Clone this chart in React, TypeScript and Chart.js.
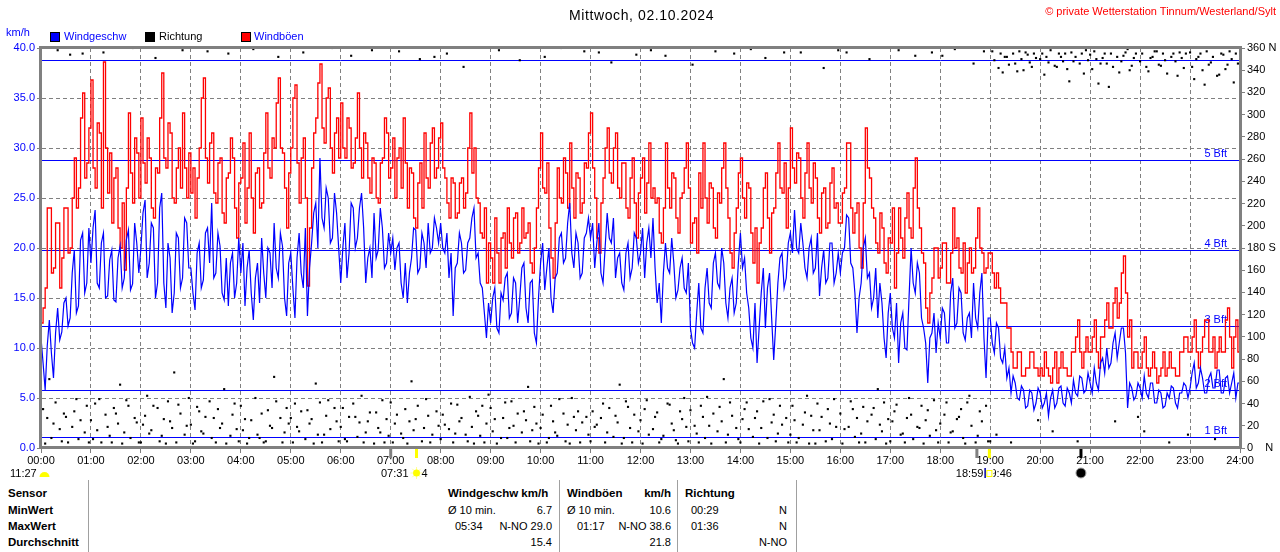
import React, { useEffect, useRef } from "react";
import { Chart, registerables } from "chart.js";

Chart.register(...registerables);

const FONT = "'Liberation Sans', Arial, sans-serif";
const STEP_MINUTES = 2.5;

// Windgeschwindigkeit km/h, 2,5-Minuten-Werte 00:00 .. 24:00 (eine Zeile = eine Stunde)
const WIND_KMH = [
  11.0, 8.5, 5.8, 10.2, 12.8, 9.5, 7.0, 11.5, 14.0, 10.8, 11.6, 14.5, 15.0, 12.2, 13.0, 17.5, 19.8, 13.5, 14.2, 20.8, 21.5, 15.5, 16.5, 22.0,
  18.5, 22.0, 23.8, 16.5, 16.0, 20.5, 21.5, 15.0, 15.2, 18.8, 19.8, 14.8, 14.6, 19.0, 20.2, 16.0, 17.0, 20.8, 21.8, 15.8, 16.4, 22.5, 20.5, 17.5,
  20.0, 23.5, 24.8, 17.0, 18.5, 22.5, 22.0, 15.0, 16.5, 24.0, 25.5, 16.5, 14.0, 20.5, 19.0, 13.5, 15.5, 21.5, 21.0, 16.0, 17.0, 23.0, 22.5, 18.0,
  18.0, 15.5, 13.8, 19.5, 20.5, 16.0, 16.8, 21.5, 22.0, 18.5, 24.5, 17.0, 17.5, 21.5, 20.2, 15.5, 14.8, 19.0, 14.2, 18.5, 19.5, 15.0, 16.5, 21.0,
  17.5, 20.5, 14.2, 18.0, 19.8, 15.5, 12.8, 17.0, 18.5, 14.5, 21.0, 17.5, 15.0, 20.0, 19.5, 16.0, 22.5, 18.0, 17.0, 21.5, 20.2, 15.0, 13.2, 18.5,
  19.5, 16.0, 13.0, 19.0, 21.5, 17.5, 16.0, 22.0, 13.2, 18.0, 20.5, 23.5, 24.5, 20.0, 29.0, 23.0, 22.0, 26.0, 25.0, 20.5, 21.0, 25.5, 23.5, 20.0,
  16.5, 20.0, 22.5, 17.0, 19.5, 24.5, 24.0, 20.0, 21.0, 24.0, 25.5, 22.0, 16.5, 19.0, 20.0, 17.0, 23.5, 19.0, 19.8, 24.0, 22.0, 18.0, 18.5, 21.5,
  19.5, 21.0, 17.8, 20.0, 20.5, 16.5, 15.0, 18.5, 14.5, 17.5, 19.0, 22.0, 21.8, 17.5, 18.0, 21.5, 20.5, 18.0, 22.5, 19.5, 20.0, 23.0, 22.0, 20.5,
  22.5, 20.0, 19.5, 21.5, 17.0, 19.5, 13.2, 18.0, 18.5, 21.5, 20.5, 17.5, 17.8, 20.5, 21.0, 23.0, 24.0, 19.0, 19.5, 16.5, 16.0, 13.5, 11.0, 14.5,
  12.5, 15.0, 16.0, 12.0, 11.5, 15.5, 14.8, 17.0, 17.5, 13.0, 13.5, 17.0, 16.5, 12.5, 15.0, 18.0, 18.5, 14.0, 12.5, 16.5, 16.8, 11.5, 10.5, 15.0,
  18.5, 20.5, 15.8, 18.0, 20.0, 15.0, 13.5, 17.0, 17.5, 21.0, 21.5, 18.5, 19.0, 22.5, 24.5, 19.5, 18.0, 21.5, 20.5, 17.0, 17.5, 21.0, 21.5, 23.0,
  21.0, 22.5, 18.0, 20.5, 22.5, 17.5, 16.5, 20.0, 23.5, 21.0, 20.5, 23.0, 17.0, 19.0, 19.5, 16.5, 15.8, 19.5, 20.5, 17.0, 18.0, 21.5, 21.0, 18.5,
  19.5, 22.0, 17.0, 20.5, 22.0, 19.0, 23.0, 18.0, 14.5, 16.5, 12.5, 17.5, 20.5, 18.0, 17.5, 21.0, 18.5, 15.0, 15.8, 18.0, 19.0, 16.0, 15.5, 18.5,
  12.0, 10.5, 10.0, 13.5, 16.5, 12.0, 11.5, 16.0, 18.0, 14.5, 14.0, 18.5, 19.5, 16.5, 16.0, 20.0, 18.5, 14.5, 13.0, 16.0, 17.0, 13.5, 14.5, 18.5,
  21.5, 18.0, 19.0, 15.5, 14.0, 11.0, 10.0, 14.5, 8.5, 12.0, 15.5, 18.0, 12.0, 16.0, 17.5, 13.0, 8.8, 12.5, 16.5, 19.0, 19.5, 16.0, 17.0, 20.5,
  21.5, 19.5, 23.8, 20.0, 19.5, 22.5, 20.5, 18.0, 17.0, 20.0, 21.0, 17.5, 18.0, 21.5, 15.2, 18.0, 19.8, 16.5, 17.0, 20.5, 20.5, 16.5, 17.5, 19.5,
  17.5, 19.5, 20.0, 23.3, 23.0, 18.5, 18.0, 15.5, 11.5, 15.0, 16.5, 20.0, 21.0, 17.0, 17.5, 14.0, 15.0, 18.0, 13.0, 16.5, 14.5, 11.0, 9.0, 13.5,
  15.5, 12.0, 11.0, 14.5, 8.5, 12.5, 13.5, 10.0, 9.8, 15.0, 20.0, 16.5, 15.5, 18.5, 17.5, 13.0, 12.0, 10.5, 6.5, 11.0, 11.5, 13.5, 9.5, 12.5,
  11.0, 14.0, 13.5, 10.5, 10.5, 15.5, 17.0, 12.0, 12.5, 16.0, 15.5, 11.5, 10.8, 13.0, 13.5, 11.0, 16.5, 13.0, 12.0, 15.5, 17.5, 11.0, 7.0, 13.0,
  13.0, 10.5, 9.5, 12.5, 12.0, 9.0, 8.5, 10.0, 7.0, 8.0, 5.5, 7.2, 6.5, 5.0, 4.8, 6.2, 5.8, 4.0, 4.2, 5.8, 5.5, 3.8, 4.5, 6.0,
  5.5, 4.0, 4.5, 5.5, 3.2, 5.0, 5.8, 4.0, 4.5, 6.0, 6.2, 4.5, 4.2, 6.0, 5.5, 4.5, 6.8, 5.5, 5.2, 7.2, 7.0, 5.5, 5.8, 7.5,
  6.5, 5.5, 8.0, 6.5, 5.8, 8.5, 9.0, 7.5, 10.0, 8.0, 8.5, 10.5, 11.5, 9.0, 10.5, 12.0, 12.0, 9.5, 4.0, 6.5, 6.0, 4.8, 5.2, 6.5,
  6.0, 5.0, 7.2, 5.5, 5.0, 6.5, 6.5, 4.5, 4.5, 5.8, 5.5, 4.0, 4.2, 5.5, 5.0, 6.2, 6.0, 4.5, 4.0, 5.5, 5.5, 6.5, 6.2, 5.0,
  6.0, 7.5, 8.5, 6.0, 6.5, 8.0, 7.0, 5.5, 5.5, 7.0, 7.5, 6.0, 6.0, 7.8, 7.8, 5.5, 5.5, 7.0, 7.2, 5.5, 6.5, 7.5, 5.0, 6.5,
  6.5,
];

// Windböen km/h
const GUST_KMH = [
  12.5, 14.0, 16.0, 24.0, 24.0, 17.5, 18.0, 22.5, 22.5, 16.0, 19.0, 24.0, 24.0, 19.5, 20.0, 25.0, 29.0, 24.0, 26.0, 33.0, 35.5, 27.0, 28.5, 32.0,
  36.8, 28.0, 26.0, 32.5, 31.5, 24.0, 38.6, 30.0, 25.5, 29.5, 22.5, 27.0, 28.0, 22.0, 20.0, 24.5, 17.8, 26.0, 33.5, 27.5, 24.5, 31.0, 29.5, 25.0,
  33.0, 28.5, 26.5, 31.0, 29.0, 24.0, 23.0, 28.0, 27.5, 33.0, 37.5, 29.0, 28.0, 32.5, 31.5, 25.0, 24.5, 28.0, 30.0, 26.0, 33.5, 28.0, 25.0, 29.5,
  25.5, 28.0, 23.0, 27.0, 30.0, 35.0, 37.0, 29.0, 26.5, 30.5, 31.5, 25.5, 24.5, 28.5, 29.0, 23.5, 22.5, 27.0, 27.5, 31.0, 29.0, 24.0, 21.0, 26.5,
  27.0, 30.5, 22.5, 26.0, 31.5, 25.0, 21.5, 27.5, 28.0, 24.0, 24.5, 29.5, 33.5, 28.0, 27.0, 31.0, 30.0, 34.5, 37.0, 30.0, 29.5, 26.0, 22.0, 27.5,
  30.0, 35.0, 36.3, 28.5, 24.5, 29.0, 31.0, 25.0, 16.2, 22.0, 28.0, 31.5, 33.0, 36.5, 38.4, 32.0, 30.5, 35.0, 36.0, 30.0, 27.5, 31.5, 33.0, 29.0,
  34.5, 30.0, 29.0, 33.0, 32.0, 28.0, 28.5, 31.0, 35.5, 30.0, 27.0, 31.5, 30.5, 27.0, 25.5, 29.0, 28.5, 25.0, 24.5, 28.5, 29.0, 33.0, 31.5, 27.0,
  28.0, 31.0, 25.0, 29.0, 30.0, 26.0, 33.0, 28.5, 24.0, 28.0, 27.5, 23.0, 22.0, 26.5, 28.5, 24.0, 31.5, 27.0, 26.0, 30.5, 32.0, 27.0, 28.0, 31.0,
  32.5, 28.0, 27.0, 24.5, 23.0, 27.0, 26.5, 23.0, 23.5, 26.5, 27.0, 24.0, 25.5, 30.0, 33.5, 27.5, 30.0, 25.0, 24.5, 21.5, 21.0, 24.0, 16.5, 20.5,
  19.0, 16.5, 23.0, 19.5, 16.5, 21.0, 21.5, 18.0, 24.0, 20.5, 19.0, 23.0, 23.5, 19.5, 20.5, 24.0, 21.0, 21.5, 22.5, 18.5, 17.5, 20.0, 24.0, 28.0,
  31.5, 26.0, 25.5, 28.5, 22.0, 19.0, 17.0, 22.5, 28.0, 25.0, 24.5, 29.0, 27.5, 24.0, 30.5, 26.0, 23.0, 27.5, 27.0, 23.5, 24.5, 28.5, 28.0, 31.5,
  33.5, 28.0, 25.0, 21.0, 19.5, 24.5, 27.0, 30.0, 32.0, 27.5, 26.5, 30.0, 31.5, 26.0, 25.0, 28.5, 28.5, 24.0, 23.0, 27.0, 29.0, 24.5, 21.0, 25.5,
  27.0, 29.0, 23.5, 26.5, 30.5, 25.0, 26.0, 24.5, 25.0, 21.5, 20.5, 24.0, 30.5, 26.0, 24.0, 27.5, 27.0, 23.0, 21.5, 25.0, 25.5, 28.0, 30.5, 26.0,
  20.5, 22.5, 23.0, 19.5, 27.5, 24.0, 30.5, 25.0, 22.5, 26.5, 26.0, 22.0, 21.0, 25.5, 24.5, 28.0, 30.5, 26.0, 23.0, 19.5, 18.0, 21.5, 24.0, 27.5,
  29.0, 25.0, 23.0, 26.5, 26.0, 21.5, 18.5, 22.0, 16.5, 20.5, 22.0, 26.0, 27.5, 23.0, 19.5, 23.5, 24.0, 27.5, 30.5, 26.0, 25.5, 28.5, 22.0, 26.0,
  32.0, 28.0, 26.5, 29.5, 29.0, 25.0, 23.0, 27.5, 30.5, 26.0, 24.5, 28.5, 27.0, 23.0, 21.5, 25.5, 26.0, 22.0, 22.5, 26.5, 28.0, 24.0, 24.5, 22.5,
  22.5, 25.5, 26.0, 30.5, 30.5, 24.0, 21.5, 23.5, 24.5, 20.0, 18.0, 24.5, 32.0, 28.0, 27.0, 24.0, 23.0, 20.5, 19.5, 23.5, 22.0, 18.5, 17.5, 21.0,
  20.5, 24.0, 16.0, 19.5, 24.0, 21.0, 19.0, 23.0, 25.5, 22.0, 21.0, 26.0, 29.0, 24.0, 22.0, 19.5, 18.5, 14.0, 12.5, 15.5, 17.0, 20.0, 20.0, 17.0,
  18.0, 20.5, 20.5, 16.5, 16.5, 19.5, 24.0, 20.0, 21.0, 18.0, 17.5, 20.5, 15.5, 18.5, 20.0, 17.5, 18.0, 21.0, 24.0, 20.0, 19.5, 17.5, 18.0, 19.5,
  19.5, 17.5, 16.0, 17.5, 16.0, 14.5, 14.5, 14.5, 12.0, 12.0, 9.6, 8.0, 8.0, 9.6, 9.6, 7.2, 7.2, 8.0, 8.0, 9.6, 9.6, 8.0, 8.0, 7.2,
  8.0, 7.2, 9.6, 8.0, 7.2, 6.5, 8.0, 9.6, 6.5, 8.0, 9.6, 8.0, 8.0, 7.2, 7.2, 9.6, 9.6, 11.1, 12.8, 9.6, 8.0, 9.6, 11.1, 9.6,
  9.6, 11.1, 12.8, 9.6, 8.0, 11.1, 11.1, 12.8, 14.5, 12.0, 12.0, 14.5, 16.0, 13.0, 14.5, 17.5, 19.2, 15.5, 11.1, 12.8, 8.0, 9.6, 9.6, 8.0,
  8.0, 9.6, 11.1, 8.0, 7.2, 8.0, 9.6, 8.0, 6.5, 7.2, 8.0, 9.6, 7.2, 8.0, 9.6, 8.0, 8.0, 7.2, 7.2, 9.6, 9.6, 11.1, 11.1, 9.6,
  9.6, 11.1, 12.8, 9.6, 8.0, 9.6, 11.1, 12.8, 12.8, 9.6, 9.6, 11.1, 8.0, 9.6, 11.1, 9.6, 9.6, 12.8, 14.0, 11.1, 8.0, 11.1, 12.8, 9.6,
  12.0,
];

// Windrichtung Grad (2,5-Minuten-Werte)
const DIRECTION_DEG = [
  12, 35, 4, 27, 62, 9, 22, 41, 358, 17, 6, 31, 28, 5, 354, 19, 33, 44, 8, 25, 355, 14, 38, 5,
  25, 8, 40, 16, 44, 5, 356, 30, 19, 11, 5, 36, 31, 22, 57, 4, 14, 43, 38, 9, 360, 27, 23, 5,
  5, 21, 29, 47, 13, 16, 38, 351, 36, 6, 11, 26, 4, 42, 24, 18, 68, 5, 39, 31, 358, 12, 20, 45,
  21, 4, 6, 37, 33, 15, 13, 28, 357, 42, 9, 27, 5, 35, 18, 22, 53, 4, 355, 11, 30, 40, 17, 6,
  38, 16, 26, 4, 9, 25, 359, 45, 12, 9, 31, 5, 6, 34, 20, 18, 64, 42, 352, 27, 5, 14, 36, 22,
  27, 5, 40, 19, 15, 33, 356, 8, 34, 22, 26, 4, 58, 12, 41, 5, 12, 29, 43, 17, 360, 36, 24, 6,
  19, 36, 8, 6, 28, 353, 40, 28, 10, 23, 47, 5, 14, 24, 32, 358, 4, 32, 18, 14, 43, 5, 26, 11,
  41, 5, 22, 30, 357, 13, 9, 35, 4, 24, 60, 16, 26, 38, 350, 6, 18, 44, 29, 5, 12, 352, 33, 20,
  8, 30, 21, 355, 17, 40, 5, 13, 39, 24, 27, 343, 12, 6, 46, 19, 4, 33, 29, 11, 38, 5, 22, 48,
  36, 15, 26, 4, 358, 9, 27, 41, 9, 18, 42, 20, 5, 31, 349, 14, 33, 25, 55, 6, 16, 37, 22, 4,
  18, 30, 352, 5, 9, 38, 24, 14, 11, 44, 360, 31, 6, 21, 4, 45, 28, 16, 33, 5, 23, 357, 28, 12,
  6, 33, 19, 21, 356, 27, 40, 5, 14, 36, 347, 10, 29, 23, 57, 4, 9, 42, 37, 18, 5, 30, 354, 15,
  25, 4, 35, 43, 12, 358, 17, 28, 32, 5, 8, 11, 353, 40, 39, 22, 16, 7, 4, 33, 26, 45, 19, 6,
  34, 345, 20, 13, 5, 38, 28, 9, 46, 20, 4, 31, 357, 15, 37, 24, 62, 5, 12, 41, 29, 355, 18, 8,
  5, 26, 35, 41, 17, 359, 10, 27, 33, 4, 18, 42, 351, 9, 44, 23, 30, 6, 13, 38, 21, 356, 27, 5,
  12, 38, 25, 5, 9, 356, 21, 32, 47, 4, 29, 16, 4, 40, 16, 28, 342, 6, 35, 22, 8, 44, 19, 358,
  31, 4, 17, 356, 19, 42, 35, 10, 27, 5, 13, 37, 5, 24, 350, 30, 36, 8, 53, 21, 15, 41, 4, 26,
  6, 24, 33, 39, 358, 12, 13, 5, 27, 45, 30, 8, 353, 19, 18, 38, 4, 25, 34, 11, 356, 43, 16, 5,
  22, 353, 30, 41, 5, 14, 15, 359, 26, 28, 35, 9, 4, 41, 47, 20, 346, 5, 11, 33, 24, 357, 38, 6,
  6, 357, 349, 12, 342, 355, 338, 352, 352, 345, 5, 355, 346, 339, 357, 350, 340, 356, 354, 347, 343, 355, 351, 25,
  350, 355, 336, 352, 347, 358, 15, 344, 343, 355, 352, 348, 355, 341, 330, 356, 348, 352, 6, 346, 355, 337, 358, 349,
  354, 341, 357, 350, 328, 346, 351, 355, 346, 325, 355, 343, 24, 352, 338, 348, 353, 356, 359, 340, 344, 351, 355, 28,
  348, 355, 15, 343, 339, 351, 352, 357, 357, 345, 344, 355, 349, 337, 5, 352, 355, 348, 335, 356, 351, 342, 355, 12,
  356, 343, 332, 350, 352, 355, 340, 327, 357, 345, 347, 352, 8, 335, 336, 355, 354, 341, 345, 357, 350, 329, 355, 346,
];

const BEAUFORT_KMH = [1.1, 5.8, 12.2, 19.8, 28.8, 38.8];
const BEAUFORT_LABELS = ["1 Bft", "2 Bft", "3 Bft", "4 Bft", "5 Bft", ""];

// Markierungen an der Zeitachse (Minuten)
const EVENT_MINUTES = [420, 451, 1124, 1139, 1249];
const EVENT_COLORS = ["#808080", "#ffff00", "#808080", "#ffff00", "#000000"];

const STAT_ROWS = ["Sensor", "MinWert", "MaxWert", "Durchschnitt"];
const WIND_STATS = ["Ø 10 min.", "6.7", "05:34", "N-NO 29.0", "15.4"];
const GUST_STATS = ["Ø 10 min.", "10.6", "01:17", "N-NO 38.6", "21.8"];
const DIR_STATS = ["00:29", "N", "01:36", "N", "N-NO"];

const toPoints = (arr: number[]) => arr.map((v, i) => ({ x: i * STEP_MINUTES, y: v }));

const overlayPlugin = {
  id: "overlay",
  beforeDatasetsDraw(chart: any) {
    const { ctx, chartArea: a, scales } = chart;
    ctx.save();
    ctx.strokeStyle = "#0000ff";
    ctx.lineWidth = 1;
    ctx.fillStyle = "#0000ff";
    ctx.font = `11px ${FONT}`;
    ctx.textAlign = "right";
    ctx.textBaseline = "alphabetic";
    BEAUFORT_KMH.forEach((v, i) => {
      const py = Math.round(scales.y.getPixelForValue(v)) + 0.5;
      ctx.beginPath();
      ctx.moveTo(a.left, py);
      ctx.lineTo(a.right, py);
      ctx.stroke();
      if (BEAUFORT_LABELS[i]) ctx.fillText(BEAUFORT_LABELS[i], a.right - 13, py - 4);
    });
    ctx.restore();
  },
  afterDraw(chart: any) {
    const { ctx, chartArea: a, scales } = chart;
    ctx.save();
    ctx.strokeStyle = "#808080";
    ctx.lineWidth = 3;
    ctx.strokeRect(a.left - 0.5, a.top - 0.5, a.right - a.left + 1, a.bottom - a.top);
    EVENT_MINUTES.forEach((m, i) => {
      const px = scales.x.getPixelForValue(m);
      ctx.strokeStyle = EVENT_COLORS[i];
      ctx.lineWidth = 3;
      ctx.beginPath();
      ctx.moveTo(px, a.bottom + 1);
      ctx.lineTo(px, a.bottom + 10);
      ctx.stroke();
    });
    ctx.font = `11px ${FONT}`;
    ctx.fillStyle = "#000";
    ctx.textBaseline = "alphabetic";
    ctx.textAlign = "left";
    ctx.fillText("11:27", 10, 477);
    ctx.fillStyle = "#ffff00";
    ctx.beginPath();
    ctx.arc(44.5, 477, 5, Math.PI, 0);
    ctx.fill();
    const sr = scales.x.getPixelForValue(EVENT_MINUTES[1]);
    ctx.fillStyle = "#000";
    ctx.textAlign = "right";
    ctx.fillText("07:31", sr - 8, 477);
    ctx.textAlign = "left";
    ctx.fillText("4", sr + 5, 477);
    ctx.strokeStyle = "#ffff99";
    ctx.lineWidth = 1;
    for (let k = 0; k < 8; k++) {
      const ang = (k * Math.PI) / 4;
      ctx.beginPath();
      ctx.moveTo(sr + Math.cos(ang) * 3, 473 + Math.sin(ang) * 3);
      ctx.lineTo(sr + Math.cos(ang) * 6, 473 + Math.sin(ang) * 6);
      ctx.stroke();
    }
    ctx.fillStyle = "#ffff00";
    ctx.beginPath();
    ctx.arc(sr, 473, 3.5, 0, Math.PI * 2);
    ctx.fill();
    const ss = scales.x.getPixelForValue(EVENT_MINUTES[3]);
    ctx.fillStyle = "#000";
    ctx.textAlign = "right";
    ctx.fillText("18:59", ss - 6, 477);
    ctx.textAlign = "left";
    ctx.fillText("19:46", ss - 5, 477);
    ctx.fillStyle = "#fff";
    ctx.fillRect(ss - 6, 467, 10, 12);
    ctx.fillStyle = "#0000aa";
    ctx.fillRect(ss - 5, 468, 1.5, 10);
    ctx.strokeStyle = "#ffff00";
    ctx.lineWidth = 1;
    ctx.strokeRect(ss - 2.5, 470.5, 5, 6);
    const nm = scales.x.getPixelForValue(EVENT_MINUTES[4]);
    ctx.fillStyle = "#000";
    ctx.strokeStyle = "#a0a0a0";
    ctx.beginPath();
    ctx.arc(nm, 473, 5, 0, Math.PI * 2);
    ctx.fill();
    ctx.stroke();
    ctx.restore();
  },
};

const pad2 = (n: number) => String(n).padStart(2, "0");

function WindChart() {
  const ref = useRef<HTMLCanvasElement | null>(null);
  useEffect(() => {
    if (!ref.current) return;
    const chart = new Chart(ref.current, {
      type: "line",
      data: {
        datasets: [
          {
            label: "Richtung",
            data: toPoints(DIRECTION_DEG),
            yAxisID: "y2",
            showLine: false,
            pointStyle: "rect",
            pointRadius: 1.5,
            pointBackgroundColor: "#000",
            pointBorderWidth: 0,
            order: 0,
            clip: 4,
          } as any,
          {
            label: "Windgeschw",
            data: toPoints(WIND_KMH),
            yAxisID: "y",
            borderColor: "#0000ff",
            borderWidth: 1.2,
            pointRadius: 0,
            order: 1,
          },
          {
            label: "Windböen",
            data: toPoints(GUST_KMH),
            yAxisID: "y",
            borderColor: "#ff0000",
            borderWidth: 1.3,
            pointRadius: 0,
            stepped: true,
            order: 2,
          },
        ],
      },
      options: {
        animation: false,
        responsive: false,
        devicePixelRatio: 1,
        events: [],
        layout: { padding: { top: 48, left: 0, right: 0, bottom: 0 } },
        plugins: { legend: { display: false }, tooltip: { enabled: false }, title: { display: false } },
        scales: {
          x: {
            type: "linear",
            min: 0,
            max: 1440,
            afterFit: (s: any) => {
              s.height = 32;
            },
            ticks: {
              stepSize: 60,
              autoSkip: false,
              maxRotation: 0,
              color: "#000",
              padding: 1,
              font: { family: FONT, size: 11 },
              callback: (v: any) => `${pad2(Math.round(Number(v) / 60))}:00`,
            },
            grid: { color: "#808080", tickColor: "#808080", tickLength: 5, lineWidth: 1 },
            border: { display: true, color: "#808080", width: 1, dash: [4, 3] },
          },
          y: {
            type: "linear",
            position: "left",
            min: 0,
            max: 40,
            afterFit: (s: any) => {
              s.width = 41;
            },
            ticks: {
              stepSize: 5,
              color: "#0000ff",
              padding: 2,
              font: { family: FONT, size: 11 },
              callback: (v: any) => Number(v).toFixed(1),
            },
            grid: { color: "#808080", tickColor: "#808080", tickLength: 4, lineWidth: 1 },
            border: { display: true, color: "#808080", width: 1, dash: [4, 3] },
          },
          y2: {
            type: "linear",
            position: "right",
            min: 0,
            max: 360,
            afterFit: (s: any) => {
              s.width = 40;
            },
            ticks: {
              stepSize: 20,
              color: "#000",
              padding: 2,
              font: { family: FONT, size: 11 },
              callback: (v: any) => (v === 360 ? "360 N" : v === 180 ? "180 S" : v === 0 ? "0    N" : String(v)),
            },
            grid: { drawOnChartArea: false, color: "#808080", tickColor: "#808080", tickLength: 5 },
            border: { display: true, color: "#808080", width: 1 },
          },
        },
      },
      plugins: [overlayPlugin],
    } as any);
    return () => chart.destroy();
  }, []);
  return <canvas ref={ref} width={1280} height={480} style={{ display: "block", position: "absolute", left: 0, top: 0 }} />;
}

const ROW_TOP = [487, 504, 520, 536];

function Txt(props: { x: number; row: number; right?: boolean; bold?: boolean; color?: string; children: React.ReactNode }) {
  const { x, row, right, bold, color, children } = props;
  const pos = right ? { right: 1280 - x } : { left: x };
  return (
    <span
      style={{
        position: "absolute",
        top: ROW_TOP[row],
        ...pos,
        font: `${bold ? "bold 11.5px" : "11px"} ${FONT}`,
        lineHeight: "13px",
        whiteSpace: "nowrap",
        color: color || "#000",
      }}
    >
      {children}
    </span>
  );
}

export default function App() {
  const sep = (x: number) => (
    <div key={x} style={{ position: "absolute", left: x, top: 480, width: 1, height: 72, background: "#a0a0a0" }} />
  );
  const legendBox = (x: number, c: string) => (
    <div style={{ position: "absolute", left: x, top: 32, width: 8, height: 8, background: c, border: "1px solid #000" }} />
  );
  const label = (x: number, top: number, text: string, color: string) => (
    <span style={{ position: "absolute", left: x, top, font: `11px ${FONT}`, lineHeight: "13px", color, whiteSpace: "nowrap" }}>
      {text}
    </span>
  );
  return (
    <div style={{ position: "absolute", left: 0, top: 0, width: 1280, height: 552, background: "#fff", overflow: "hidden" }}>
      <WindChart />
      <span
        style={{ position: "absolute", left: 569, top: 7, font: `14px ${FONT}`, lineHeight: "16px", letterSpacing: "0.6px", color: "#000", whiteSpace: "nowrap" }}
      >
        Mittwoch, 02.10.2024
      </span>
      <span style={{ position: "absolute", right: 4, top: 5, font: `11px ${FONT}`, lineHeight: "13px", color: "#ff0000", whiteSpace: "nowrap" }}>
        © private Wetterstation Tinnum/Westerland/Sylt
      </span>
      {label(6, 26, "km/h", "#0000ff")}
      {legendBox(50, "#0000ff")}
      {label(64, 30, "Windgeschw", "#0000ff")}
      {legendBox(145, "#000000")}
      {label(159, 30, "Richtung", "#000000")}
      {legendBox(241, "#ff0000")}
      {label(254, 30, "Windböen", "#0000ff")}

      {[88, 559, 677, 796].map(sep)}
      {STAT_ROWS.map((r, i) => (
        <Txt key={r} x={8} row={i} bold>
          {r}
        </Txt>
      ))}
      <Txt x={448} row={0} bold>Windgeschw km/h</Txt>
      <Txt x={448} row={1}>{WIND_STATS[0]}</Txt>
      <Txt x={552} row={1} right>{WIND_STATS[1]}</Txt>
      <Txt x={455} row={2}>{WIND_STATS[2]}</Txt>
      <Txt x={552} row={2} right>{WIND_STATS[3]}</Txt>
      <Txt x={552} row={3} right>{WIND_STATS[4]}</Txt>

      <Txt x={567} row={0} bold>Windböen</Txt>
      <Txt x={671} row={0} right bold>km/h</Txt>
      <Txt x={567} row={1}>{GUST_STATS[0]}</Txt>
      <Txt x={671} row={1} right>{GUST_STATS[1]}</Txt>
      <Txt x={577} row={2}>{GUST_STATS[2]}</Txt>
      <Txt x={671} row={2} right>{GUST_STATS[3]}</Txt>
      <Txt x={671} row={3} right>{GUST_STATS[4]}</Txt>

      <Txt x={685} row={0} bold>Richtung</Txt>
      <Txt x={691} row={1}>{DIR_STATS[0]}</Txt>
      <Txt x={787} row={1} right>{DIR_STATS[1]}</Txt>
      <Txt x={691} row={2}>{DIR_STATS[2]}</Txt>
      <Txt x={787} row={2} right>{DIR_STATS[3]}</Txt>
      <Txt x={787} row={3} right>{DIR_STATS[4]}</Txt>
    </div>
  );
}
